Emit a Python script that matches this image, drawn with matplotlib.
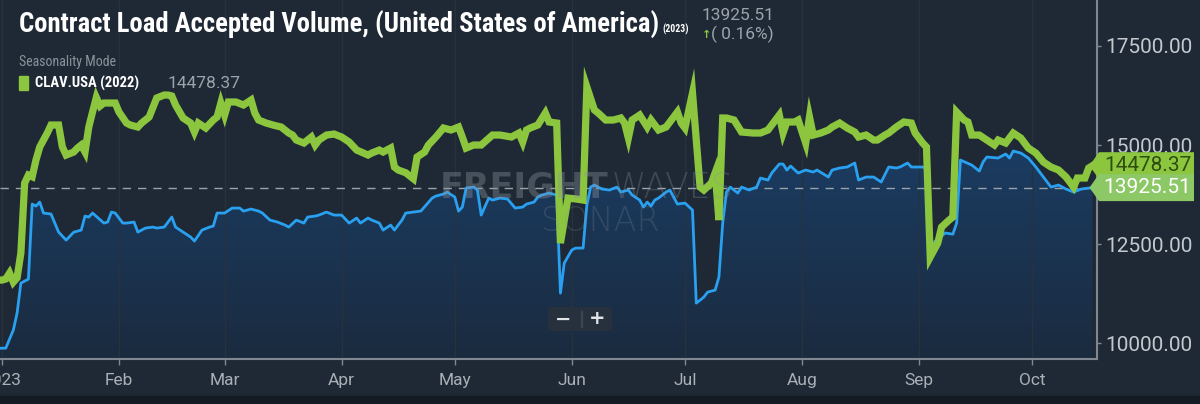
import matplotlib
matplotlib.use('Agg')
import matplotlib.pyplot as plt
import matplotlib.dates as mdates
import numpy as np
import pandas as pd
from matplotlib import font_manager as fm
from matplotlib.patches import Polygon, Rectangle, PathPatch, FancyBboxPatch
from matplotlib.colors import LinearSegmentedColormap

# ---------------- data (days since 2023-01-01, values) ----------------
base_date = '2023-01-01'

blue_days = [-1, 1, 3, 4, 5, 7, 8, 9, 10, 11, 13, 15, 17, 19, 21, 22, 23, 24, 27, 28, 29, 30,
             32, 33, 35, 36, 38, 40, 41, 43, 45, 46, 48, 50, 51, 53, 55, 56, 57, 59, 61, 63,
             64, 66, 68, 69, 71, 73, 75, 76, 78, 80, 81, 83, 84, 86, 88, 90, 92, 94, 95, 97,
             98, 100, 101, 103, 104, 106, 107, 109, 111, 114, 115, 117, 118, 120, 121, 122,
             123, 125, 126, 127, 129, 130, 132, 134, 136, 138, 139, 141, 142, 143, 145, 147,
             148, 149, 151, 152, 154, 155, 156, 157, 159, 161, 163, 164, 166, 167, 169, 170,
             171, 172, 173, 174, 176, 177, 178, 179, 181, 183, 184, 186, 187, 189, 190, 191,
             192, 193, 195, 196, 198, 200, 201, 203, 204, 206, 207, 208, 209, 211, 213, 215,
             216, 219, 220, 222, 224, 226, 227, 229, 231, 233, 235, 237, 238, 240, 241, 244,
             245, 246, 247, 250, 252, 253, 254, 257, 259, 260, 261, 264, 266, 267, 268, 270,
             272, 274, 276, 278, 280, 282, 284, 286, 288, 289]
blue_vals = [9870, 9874, 10330, 10760, 11515, 11616, 13510, 13460, 13560, 13283, 13258, 12803,
             12600, 12800, 12854, 13207, 13182, 13283, 13030, 13056, 13308, 13283, 13030, 13030,
             13056, 12803, 12904, 12929, 12904, 12929, 13182, 12929, 12803, 12677, 12576, 12854,
             12929, 12955, 13283, 13283, 13409, 13409, 13333, 13384, 13333, 13283, 13106, 13056,
             12980, 12929, 13106, 13030, 13182, 13207, 13232, 13308, 13232, 13232, 13030, 13157,
             13030, 13157, 13106, 13030, 12854, 12980, 12854, 13106, 13283, 13308, 13333, 13662,
             13712, 13763, 13813, 13687, 13333, 13434, 13914, 13939, 13864, 13232, 13662, 13611,
             13662, 13636, 13409, 13434, 13510, 13560, 13687, 13737, 13788, 13737, 11263, 12020,
             12349, 12399, 12399, 13485, 13939, 13990, 13889, 13864, 13939, 13813, 13864, 13737,
             13611, 13434, 13560, 13460, 13611, 13662, 13813, 13864, 13687, 13510, 13535, 13359,
             11010, 11162, 11288, 11339, 11667, 13030, 13813, 13939, 13788, 13939, 13864, 13939,
             14167, 14116, 14293, 14520, 14520, 14369, 14470, 14293, 14369, 14318, 14369, 14192,
             14369, 14420, 14445, 14546, 14116, 14192, 14192, 14066, 14445, 14420, 14445, 14546,
             14445, 14445, 14420, 12300, 12550, 12780, 12750, 13030, 14620, 14495, 14343, 14571,
             14697, 14672, 14773, 14672, 14848, 14798, 14672, 14445, 14192, 13939, 13990, 13889,
             13813, 13889, 13914, 13925.51]

green_days = [-1, 0, 1, 2, 3, 4, 5, 6, 7, 8, 9, 10, 11, 12, 13, 15, 16, 17, 19, 20, 21, 22, 23,
              24, 25, 26, 27, 28, 30, 31, 33, 34, 36, 37, 39, 41, 43, 44, 45, 46, 48, 50, 51, 52,
              54, 56, 57, 58, 59, 60, 62, 64, 66, 67, 68, 70, 72, 74, 76, 77, 78, 80, 82, 83, 84,
              86, 88, 90, 92, 94, 97, 98, 100, 101, 103, 104, 105, 107, 109, 110, 112, 113, 115,
              117, 119, 121, 122, 123, 125, 127, 130, 132, 135, 137, 138, 139, 140, 142, 144, 145,
              147, 148, 150, 152, 154, 155, 157, 158, 160, 162, 164, 165, 166, 167, 169, 171, 172,
              174, 176, 178, 179, 180, 181, 183, 185, 186, 188, 189, 190, 191, 192, 194, 196, 199,
              201, 203, 204, 206, 207, 208, 210, 211, 213, 214, 215, 217, 219, 220, 222, 224, 226,
              227, 229, 231, 232, 234, 235, 237, 239, 241, 242, 244, 245, 246, 248, 249, 251, 252,
              253, 255, 256, 257, 259, 261, 263, 264, 266, 268, 270, 272, 274, 276, 278, 280, 282,
              284, 285, 287, 288, 289]
green_vals = [11590, 11591, 11620, 11768, 11540, 11650, 12273, 14040, 14242, 14200, 14620, 14950,
              15126, 15303, 15505, 15505, 14950, 14747, 14823, 14924, 15000, 14823, 15454, 15833,
              16200, 15985, 16060, 16060, 16060, 15833, 15555, 15505, 15454, 15555, 15707, 16187,
              16262, 16262, 16237, 16010, 15682, 15555, 15328, 15555, 15429, 15631, 15707, 16060,
              15757, 16086, 16086, 16010, 16136, 15808, 15631, 15555, 15500, 15454, 15303, 15252,
              15126, 15050, 15202, 15000, 15126, 15252, 15277, 15202, 15076, 14873, 14747, 14798,
              14873, 14823, 14924, 14445, 14369, 14300, 14150, 14697, 14823, 15000, 15202, 15429,
              15379, 15454, 15202, 14924, 15000, 15000, 15252, 15252, 15202, 15303, 15076, 15379,
              15429, 15505, 15808, 15581, 15555, 12525, 13660, 13640, 13611, 16465, 15884, 15808,
              15631, 15631, 15682, 15555, 15177, 15631, 15757, 15454, 15631, 15379, 15454, 15707,
              15833, 15555, 15429, 16313, 13939, 13864, 14040, 14300, 13106, 15682, 15682, 15631,
              15328, 15303, 15303, 15379, 15505, 15757, 15303, 15581, 15581, 15631, 15050, 15707,
              15252, 15303, 15379, 15454, 15555, 15429, 15328, 15202, 15252, 15126, 15126, 15252,
              15303, 15454, 15581, 15555, 15303, 15050, 14950, 12172, 12525, 12929, 13106, 13182,
              15833, 15631, 15581, 15252, 15252, 15126, 15000, 15126, 15050, 15303, 15177, 14924,
              14798, 14571, 14445, 14369, 14192, 13939, 14167, 14167, 14420, 14478.37]

month_starts = ['2023-01-01', '2023-02-01', '2023-03-01', '2023-04-01', '2023-05-01',
                '2023-06-01', '2023-07-01', '2023-08-01', '2023-09-01', '2023-10-01']
month_labels = ['2023', 'Feb', 'Mar', 'Apr', 'May', 'Jun', 'Jul', 'Aug', 'Sep', 'Oct']
y_ticks = [10000, 12500, 15000, 17500]

title_text = 'Contract Load Accepted Volume, (United States of America)'
title_year = '(2023)'
current_value = 13925.51
change_text = '( 0.16%)'
mode_text = 'Seasonality Mode'
legend_label = 'CLAV.USA (2022)'
legend_value = 14478.37
watermark_1a = 'FREIGHT'
watermark_1b = 'WAVES'
watermark_2 = 'SONAR'

# ---------------- styles ----------------
BG = '#1e2935'
BLUE = '#2aa0f0'
GREEN = '#8cc63f'
SPINE = '#7f8891'
LABEL = '#a9b0b7'

avail = {f.name for f in fm.fontManager.ttflist}
def pick(*names):
    for n in names:
        if n in avail:
            return n
    return 'DejaVu Sans'
UI = pick('Roboto', 'DejaVu Sans')
COND = pick('Roboto Condensed', 'Liberation Sans Narrow', 'Roboto')
plt.rcParams['font.family'] = [UI, 'DejaVu Sans']

W, H = 1200, 404
fig = plt.figure(figsize=(W / 100, H / 100), dpi=100)
fig.patch.set_facecolor(BG)
ax = fig.add_axes([0, 45 / H, 1097 / W, 359 / H])
ax.set_facecolor(BG)

d0 = pd.Timestamp(base_date)
bx = mdates.date2num(d0 + pd.to_timedelta(blue_days, unit='D'))
gx = mdates.date2num(d0 + pd.to_timedelta(green_days, unit='D'))
by = np.array(blue_vals, dtype=float)
gy = np.array(green_vals, dtype=float)

x_lo = mdates.date2num(d0) - 0.53
x_hi = mdates.date2num(d0) + 290.2
y_lo, y_hi = 9600, 18660

# gradient fill under blue
fill = ax.fill_between(bx, by, y_lo, facecolor='none', edgecolor='none')
clip = PathPatch(fill.get_paths()[0], transform=ax.transData, facecolor='none', edgecolor='none')
ax.add_patch(clip)
cmap = LinearSegmentedColormap.from_list('fillgrad', ['#1b2b3f', '#1a3c62'])
grad = np.linspace(0, 1, 256).reshape(-1, 1)
im = ax.imshow(grad, extent=[x_lo, x_hi, y_lo, 14900], origin='lower', aspect='auto',
               cmap=cmap, zorder=1)
im.set_clip_path(clip)

ax.axhline(current_value, color='#9aa2aa', lw=1.0, ls=(0, (6, 5)), zorder=2)
ax.plot(bx, by, color=BLUE, lw=2.0, zorder=3, solid_joinstyle='round')
ax.plot(gx, gy, color=GREEN, lw=5.2, zorder=4, solid_joinstyle='miter')

ax.set_xlim(x_lo, x_hi)
ax.set_ylim(y_lo, y_hi)

ax.set_xticks(mdates.date2num(pd.to_datetime(month_starts)))
ax.set_xticklabels(month_labels)
ax.yaxis.tick_right()
ax.set_yticks(y_ticks)
ax.set_yticklabels([f'{v:.2f}' for v in y_ticks])
ax.tick_params(axis='x', length=4, width=1, color=SPINE, pad=6, labelsize=12.5, labelcolor=LABEL)
ax.tick_params(axis='y', length=3, width=1, color=SPINE, pad=3, labelsize=15, labelcolor='#c3c9cf')
ax.grid(axis='x', color='#27323f', lw=1, zorder=0)
for s in ['top', 'left']:
    ax.spines[s].set_visible(False)
for s in ['bottom', 'right']:
    ax.spines[s].set_color(SPINE)
    ax.spines[s].set_linewidth(1.5)

# bottom dark strip
fig.add_artist(Rectangle((0, 0), 1, 8 / H, transform=fig.transFigure, color='#141b23', zorder=0))

# ---------------- header texts ----------------
def fy(py):
    return 1 - py / H

t = fig.text(19 / W, fy(33), title_text, fontfamily=[COND, 'DejaVu Sans'], fontweight='bold',
             fontsize=18, color='white', va='baseline')
fig.canvas.draw()
wpx = t.get_window_extent().width
t.set_fontsize(18 * 638 / wpx)
fig.text(662 / W, fy(33), title_year, fontfamily=[COND, 'DejaVu Sans'], fontweight='bold',
         fontsize=7, color='white', va='baseline')
fig.text(702 / W, fy(16), f'{current_value:.2f}', fontsize=12.5, color='#9ba3ab', va='center')
fig.text(702 / W, fy(35), '\u2191', fontsize=8, color=GREEN, fontweight='bold', va='center',
         fontfamily='DejaVu Sans')
fig.text(711 / W, fy(34), change_text, fontsize=12.5, color='#9ba3ab', va='center')
fig.text(19 / W, fy(62), mode_text, fontsize=10, color='#8a939c', va='center',
         fontfamily=[COND, 'DejaVu Sans'])
fig.add_artist(Rectangle((19 / W, fy(90)), 9 / W, 14 / H, transform=fig.transFigure, color=GREEN))
fig.text(35 / W, fy(83), legend_label, fontsize=10.5, color='white', fontweight='bold',
         va='center', fontfamily=[COND, 'DejaVu Sans'])
fig.text(168 / W, fy(83), f'{legend_value:.2f}', fontsize=12.5, color='#9ba3ab', va='center')

# watermark
fig.text(440 / W, fy(197), watermark_1a, fontsize=25, fontweight='bold', color='#8c949c',
         alpha=0.38, va='baseline', fontfamily='DejaVu Sans')
fig.text(612 / W, fy(197), watermark_1b, fontsize=25, fontweight='light', color='#8c949c',
         alpha=0.3, va='baseline', fontfamily='DejaVu Sans')
fig.text(600 / W, fy(231), watermark_2, fontsize=24, fontweight='light', color='#8c949c',
         alpha=0.22, va='baseline', ha='center', fontfamily='DejaVu Sans')

# zoom buttons
fig.add_artist(FancyBboxPatch((548 / W, fy(331)), 64 / W, 24 / H, boxstyle='round,pad=0,rounding_size=0.003',
                              transform=fig.transFigure, facecolor='#27313d', edgecolor='none'))
fig.add_artist(Rectangle((581 / W, fy(327)), 1 / W, 16 / H, transform=fig.transFigure, color='#3a4552'))
fig.text(563 / W, fy(319), '\u2212', fontsize=14, fontweight='bold', color='#e0e4e8', ha='center',
         va='center', fontfamily='DejaVu Sans')
fig.text(597 / W, fy(319), '+', fontsize=14, fontweight='bold', color='#e0e4e8', ha='center',
         va='center', fontfamily='DejaVu Sans')

# ---------------- value tags on the right ----------------
inv = fig.transFigure.inverted()
def tag(value, face, txtcolor, z):
    px, py = ax.transData.transform((gx[-1], value))
    tip = px - 3
    body0, body1 = 1099, 1194
    hh = 13.5
    pts = [(tip, py), (body0, py + hh), (body1, py + hh), (body1, py - hh), (body0, py - hh)]
    pts = inv.transform(pts)
    fig.add_artist(Polygon(pts, closed=True, transform=fig.transFigure, facecolor=face,
                           edgecolor='none', zorder=z))
    cx, cy = inv.transform(((body0 + body1) / 2 + 1, py))
    fig.text(cx, cy, f'{value:.2f}', fontsize=15, color=txtcolor, ha='center', va='center', zorder=z + 1)

tag(legend_value, GREEN, '#2e4d0e', 10)
tag(current_value, '#8cc866', 'white', 12)

fig.savefig('out.png', dpi=100, facecolor=BG)
